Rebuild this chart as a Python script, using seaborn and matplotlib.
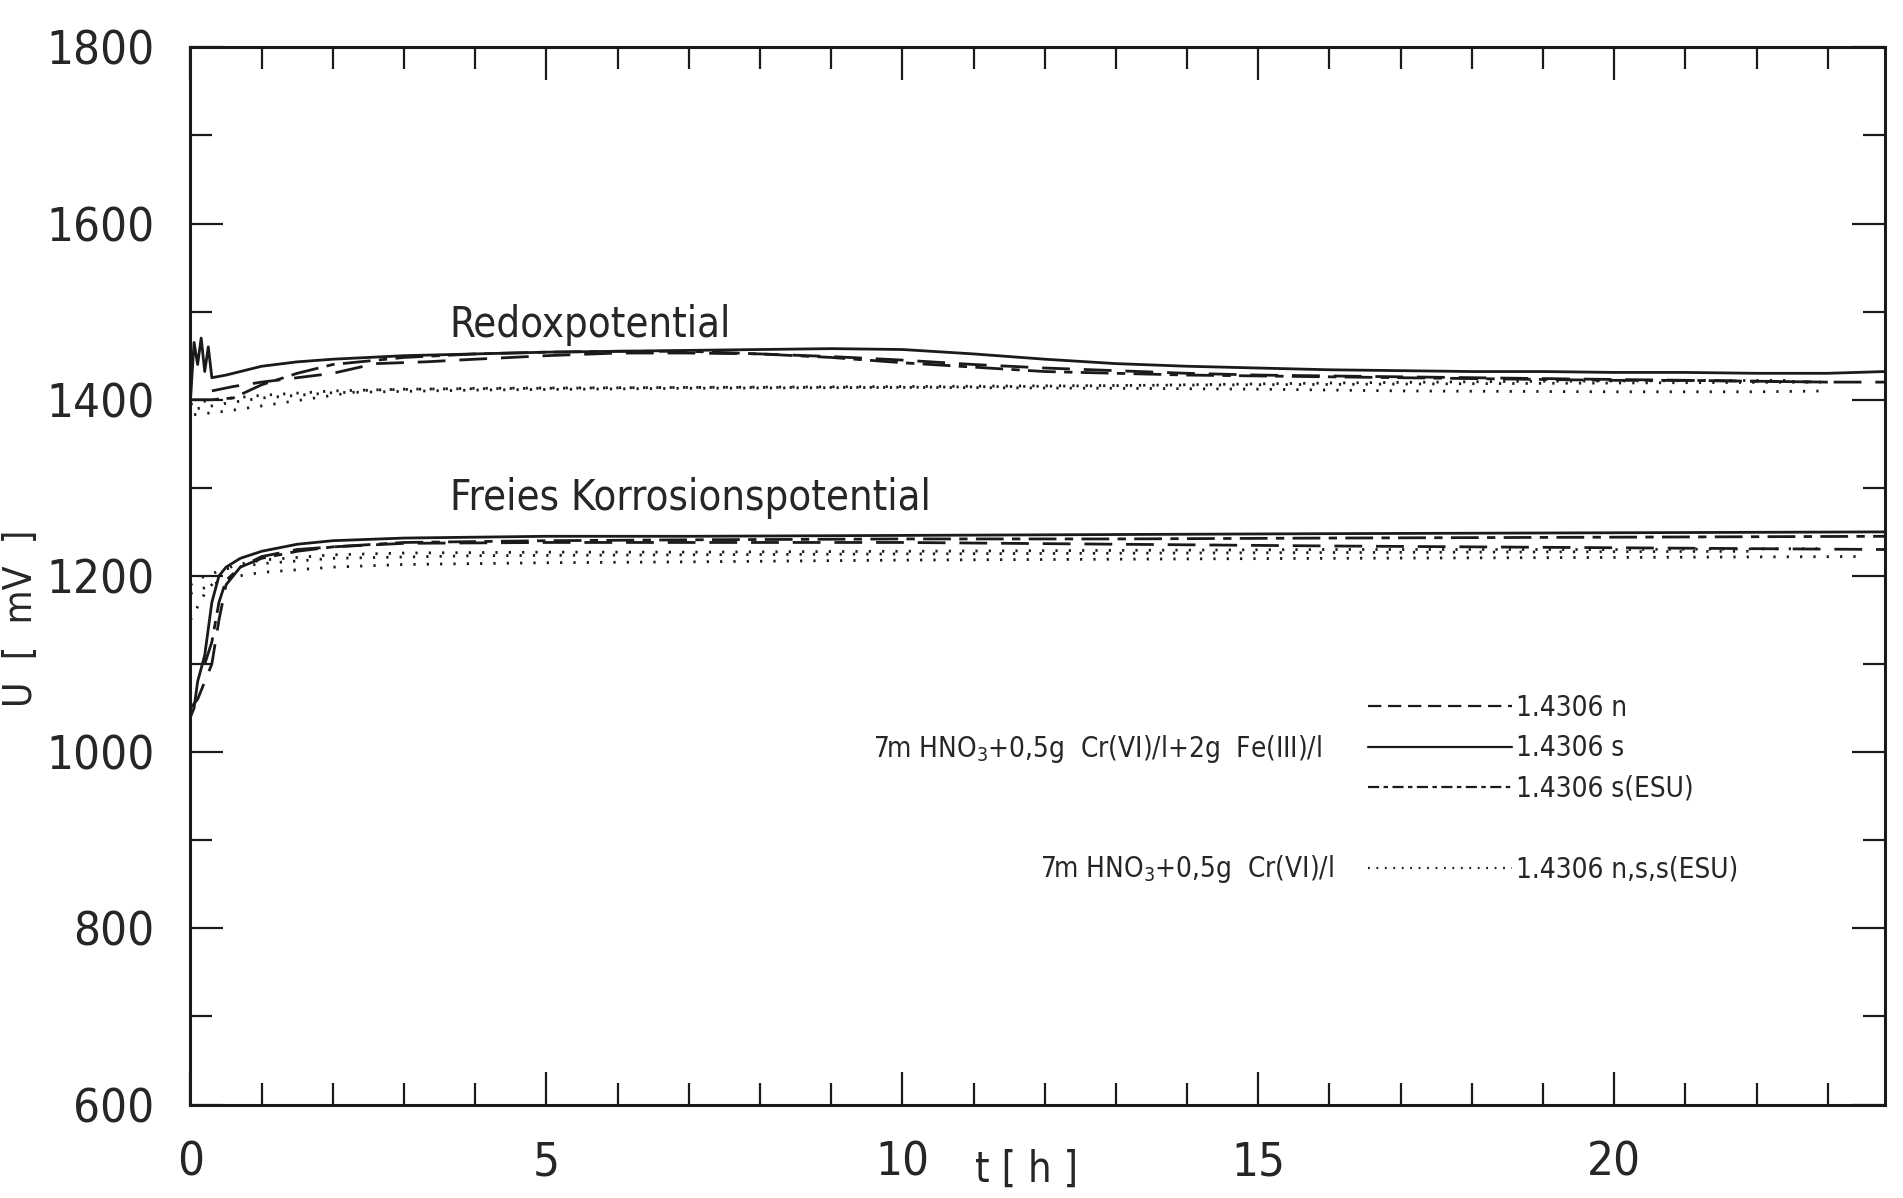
import numpy as np
import pandas as pd
import seaborn as sns
import matplotlib.pyplot as plt
from matplotlib.lines import Line2D
from matplotlib.ticker import MultipleLocator

sns.set_theme(style="white")
plt.rcParams['font.family'] = ['DejaVu Sans']
plt.rcParams['font.stretch'] = 'condensed'

# --- Redoxpotential, 7m HNO3 + 0,5g Cr(VI)/l + 2g Fe(III)/l ---
t_rx_s = [0, 0.05, 0.1, 0.15, 0.2, 0.25, 0.3, 0.5, 1, 1.5, 2, 3, 4, 5, 6, 7, 8, 9, 10,
          11, 12, 13, 14, 15, 16, 17, 18, 19, 20, 21, 22, 23, 23.8]
u_rx_s = [1400, 1465, 1440, 1470, 1432, 1460, 1425, 1428, 1438, 1443, 1446, 1450, 1452,
          1454, 1455, 1456, 1457, 1458, 1457, 1452, 1446, 1441, 1438, 1436, 1434, 1433,
          1432, 1432, 1431, 1431, 1430, 1430, 1432]
t_rx_n = [0.3, 0.6, 1, 1.5, 2, 2.6, 3.3, 4, 5, 6, 7, 8, 9, 10, 11, 12, 13, 14, 15, 16,
          17, 18, 19, 20, 21, 22, 23, 23.8]
u_rx_n = [1410, 1415, 1420, 1425, 1430, 1441, 1443, 1446, 1450, 1453, 1453, 1452, 1449,
          1445, 1440, 1436, 1433, 1430, 1428, 1427, 1426, 1425, 1424, 1423, 1422, 1421,
          1420, 1420]
t_rx_e = [0, 0.3, 0.6, 1, 1.5, 2, 3, 4, 5, 6, 7, 8, 9, 10, 11, 12, 13, 14, 15, 16, 17,
          18, 19, 20, 21, 22, 23]
u_rx_e = [1400, 1400, 1402, 1417, 1430, 1440, 1448, 1452, 1454, 1455, 1455, 1452, 1448,
          1442, 1437, 1432, 1430, 1428, 1427, 1426, 1425, 1424, 1423, 1422, 1422, 1421, 1420]
# --- Redoxpotential, 7m HNO3 + 0,5g Cr(VI)/l (dotted) ---
t_rx_d1 = [0, 0.3, 0.6, 1, 2, 3, 5, 7, 10, 13, 15, 17, 20, 22, 23]
u_rx_d1 = [1395, 1400, 1402, 1405, 1410, 1412, 1413, 1414, 1414, 1413, 1412, 1410, 1409, 1409, 1410]
t_rx_d2 = [0.05, 0.5, 1, 2, 2.5, 4, 7, 10, 15, 20, 22.9]
u_rx_d2 = [1383, 1387, 1393, 1405, 1411, 1413, 1414, 1415, 1417, 1419, 1420]
t_rx_d3 = [0.1, 0.5, 1, 2, 4, 7, 10, 13, 16, 19, 22.5]
u_rx_d3 = [1390, 1396, 1402, 1408, 1411, 1413, 1414, 1416, 1419, 1421, 1422]

# --- Freies Korrosionspotential, 7m HNO3 + 0,5g Cr(VI)/l + 2g Fe(III)/l ---
t_kp_s = [0, 0.05, 0.1, 0.2, 0.3, 0.4, 0.5, 0.7, 1, 1.5, 2, 3, 4, 5, 7, 10, 13, 16, 20, 23.8]
u_kp_s = [1040, 1050, 1080, 1110, 1170, 1200, 1210, 1220, 1228, 1236, 1240, 1243, 1244,
          1245, 1245, 1246, 1247, 1248, 1249, 1250]
t_kp_n = [0, 0.1, 0.2, 0.3, 0.4, 0.5, 0.7, 1, 1.5, 2, 3, 5, 7, 10, 13, 16, 20, 23.8]
u_kp_n = [1050, 1060, 1080, 1100, 1150, 1190, 1210, 1222, 1230, 1233, 1237, 1238, 1238,
          1238, 1236, 1234, 1232, 1230]
t_kp_e = [0.2, 0.3, 0.4, 0.5, 0.7, 1, 1.5, 2, 3, 5, 7, 10, 13, 16, 20, 23.8]
u_kp_e = [1100, 1125, 1170, 1195, 1210, 1220, 1228, 1233, 1238, 1240, 1241, 1242, 1242,
          1243, 1244, 1245]
# --- Freies Korrosionspotential, 7m HNO3 + 0,5g Cr(VI)/l (dotted) ---
t_kp_d1 = [0, 0.2, 0.4, 0.6, 1, 2, 3, 5, 7, 10, 13, 16, 20, 23]
u_kp_d1 = [1150, 1180, 1200, 1212, 1218, 1224, 1226, 1227, 1227, 1228, 1229, 1230, 1230, 1231]
t_kp_d2 = [0, 0.3, 0.6, 1, 2, 3, 5, 7, 10, 13, 16, 20, 23.5]
u_kp_d2 = [1180, 1190, 1199, 1204, 1210, 1213, 1215, 1216, 1218, 1219, 1220, 1221, 1222]
t_kp_d3 = [0, 0.2, 0.5, 1, 2, 4, 7, 10, 14, 18, 22]
u_kp_d3 = [1190, 1200, 1208, 1214, 1220, 1223, 1224, 1225, 1226, 1227, 1228]

legend_labels = ["1.4306 n", "1.4306 s", "1.4306 s(ESU)", "", "1.4306 n,s,s(ESU)"]
solution_fe = r"7m HNO$_3$+0,5g  Cr(VI)/l+2g  Fe(III)/l"
solution_cr = r"7m HNO$_3$+0,5g  Cr(VI)/l"

ls_n = (0, (10, 5))
ls_s = '-'
ls_e = (0, (10, 3, 3, 3))
ls_d = (0, (0.8, 4))

series = [
    (t_rx_s, u_rx_s, ls_s), (t_rx_n, u_rx_n, ls_n), (t_rx_e, u_rx_e, ls_e),
    (t_rx_d1, u_rx_d1, ls_d), (t_rx_d2, u_rx_d2, ls_d), (t_rx_d3, u_rx_d3, ls_d),
    (t_kp_s, u_kp_s, ls_s), (t_kp_n, u_kp_n, ls_n), (t_kp_e, u_kp_e, ls_e),
    (t_kp_d1, u_kp_d1, ls_d), (t_kp_d2, u_kp_d2, ls_d), (t_kp_d3, u_kp_d3, ls_d),
]

fig = plt.figure(figsize=(19.03, 11.98), dpi=100)
ax = fig.add_axes([0.1001, 0.078, 0.8903, 0.8825])

for t, u, ls in series:
    df = pd.DataFrame({"t": t, "U": u})
    sns.lineplot(data=df, x="t", y="U", color="k", lw=2.0, linestyle=ls,
                 estimator=None, sort=False, ax=ax)

ax.set_xlim(0, 23.8)
ax.set_ylim(600, 1800)
ax.xaxis.set_major_locator(MultipleLocator(5))
ax.xaxis.set_minor_locator(MultipleLocator(1))
ax.yaxis.set_major_locator(MultipleLocator(200))
ax.yaxis.set_minor_locator(MultipleLocator(100))
ax.tick_params(which='both', direction='in', color='k', width=1.6,
               top=True, right=True, bottom=True, left=True)
ax.tick_params(which='major', length=24, labelsize=34, pad=26)
ax.tick_params(which='minor', length=16)
for sp in ax.spines.values():
    sp.set_color('k')
    sp.set_linewidth(2.2)

ax.set_xlabel("")
ax.set_ylabel("U  [  mV  ]", fontsize=28)
ax.yaxis.set_label_coords(-0.089, 0.46)
ax.text(11.74, -0.062, "t [ h ]", transform=ax.get_xaxis_transform(),
        fontsize=30, ha='center', va='center')

ax.text(3.64, 1471, "Redoxpotential", fontsize=30, ha='left', va='baseline')
ax.text(3.64, 1275, "Freies Korrosionspotential", fontsize=30, ha='left', va='baseline')

handles = [
    Line2D([], [], color='k', lw=1.6, linestyle=(0, (6, 3))),
    Line2D([], [], color='k', lw=1.6, linestyle='-'),
    Line2D([], [], color='k', lw=1.6, linestyle=(0, (5, 2, 2, 2))),
    Line2D([], [], color='none'),
    Line2D([], [], color='k', lw=1.6, linestyle=(0, (0.8, 3))),
]
ax.legend(handles, legend_labels, loc='upper left', bbox_to_anchor=(0.68, 0.412),
          frameon=False, fontsize=20, handlelength=5.2, handletextpad=0.15,
          labelspacing=0.45)
ax.text(0.668, 0.336, solution_fe, transform=ax.transAxes, fontsize=20,
        ha='right', va='center')
ax.text(0.675, 0.223, solution_cr, transform=ax.transAxes, fontsize=20,
        ha='right', va='center')

fig.savefig("out.png", dpi=100)
